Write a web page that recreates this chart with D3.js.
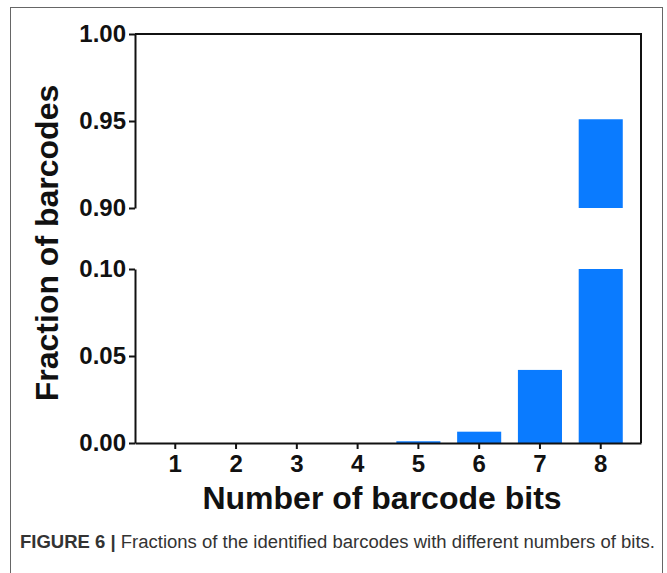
<!DOCTYPE html>
<html>
<head>
<meta charset="utf-8">
<script src="https://cdn.jsdelivr.net/npm/d3@7"></script>
<style>
	body { margin: 0; background: #fff; }
	svg text { font-family: "Liberation Sans", Arial, sans-serif; }
</style>
</head>
<body>
<div id="chart"></div>
<script>
// data
var bits = [1, 2, 3, 4, 5, 6, 7, 8];
var fractions = [0, 0, 0, 0, 0.001, 0.0065, 0.042, 0.951];
var lowTicks = [0.00, 0.05, 0.10];
var highTicks = [0.90, 0.95, 1.00];

const W = 667, H = 573;
const PLOT = { LEFT: 135, RIGHT: 641, TOP: 34, BREAK_TOP: 208, BREAK_BOTTOM: 269, BOTTOM: 443 };
const BAR_COLOR = '#0a7bff';

var svg = d3.select('#chart').append('svg')
	.attr('width', W)
	.attr('height', H);

// outer figure frame
svg.append('rect')
	.attr('x', 10.5).attr('y', 7.5)
	.attr('width', 652).attr('height', H)
	.attr('fill', 'none')
	.attr('stroke', '#666')
	.attr('stroke-width', 1);

var x = d3.scaleBand()
	.domain(bits)
	.range([PLOT.LEFT, PLOT.RIGHT])
	.paddingInner(0.275)
	.paddingOuter(0.3);

var yHigh = d3.scaleLinear().domain([0.90, 1.00]).range([PLOT.BREAK_TOP, PLOT.TOP]);
var yLow = d3.scaleLinear().domain([0, 0.10]).range([PLOT.BOTTOM, PLOT.BREAK_BOTTOM]);

// bars: lower segment
svg.append('g').selectAll('rect')
	.data(fractions)
	.enter().append('rect')
	.attr('x', function (d, i) { return x(bits[i]); })
	.attr('width', x.bandwidth())
	.attr('y', function (d) { return yLow(Math.min(d, 0.10)); })
	.attr('height', function (d) { return yLow(0) - yLow(Math.min(d, 0.10)); })
	.attr('fill', BAR_COLOR);

// bars: upper segment (only those above the break)
svg.append('g').selectAll('rect')
	.data(fractions.filter(function (d) { return d > 0.90; }))
	.enter().append('rect')
	.attr('x', function (d) { return x(bits[fractions.indexOf(d)]); })
	.attr('width', x.bandwidth())
	.attr('y', function (d) { return yHigh(Math.min(d, 1)); })
	.attr('height', function (d) { return yHigh(0.90) - yHigh(Math.min(d, 1)); })
	.attr('fill', BAR_COLOR);

// axes
function styleAxis(g) {
	g.selectAll('path, line').attr('stroke', '#111').attr('stroke-width', 2);
	g.selectAll('text')
		.attr('fill', '#111')
		.style('font-size', '24px')
		.style('font-weight', 'bold');
}

svg.append('g')
	.attr('transform', 'translate(' + PLOT.LEFT + ',0)')
	.call(d3.axisLeft(yHigh).tickValues(highTicks).tickFormat(d3.format('.2f')).tickSize(6).tickPadding(3).tickSizeOuter(0))
	.call(styleAxis);

svg.append('g')
	.attr('transform', 'translate(' + PLOT.LEFT + ',0)')
	.call(d3.axisLeft(yLow).tickValues(lowTicks).tickFormat(d3.format('.2f')).tickSize(6).tickPadding(3).tickSizeOuter(0))
	.call(styleAxis);

svg.append('g')
	.attr('transform', 'translate(0,' + PLOT.BOTTOM + ')')
	.call(d3.axisBottom(x).tickSize(6).tickPadding(6).tickSizeOuter(0))
	.call(styleAxis);

// top and right frame lines
svg.append('path')
	.attr('d', 'M' + PLOT.LEFT + ',' + PLOT.TOP + 'H' + PLOT.RIGHT + 'V' + PLOT.BOTTOM)
	.attr('fill', 'none')
	.attr('stroke', '#111')
	.attr('stroke-width', 2);

// axis titles
svg.append('text')
	.attr('transform', 'translate(58,' + 243 + ') rotate(-90)')
	.attr('text-anchor', 'middle')
	.style('font-size', '32px')
	.style('font-weight', 'bold')
	.attr('fill', '#111')
	.text('Fraction of barcodes');

svg.append('text')
	.attr('x', 382)
	.attr('y', 509)
	.attr('text-anchor', 'middle')
	.style('font-size', '32px')
	.style('font-weight', 'bold')
	.attr('fill', '#111')
	.text('Number of barcode bits');

// caption
var cap = svg.append('text')
	.attr('x', 20)
	.attr('y', 548)
	.attr('fill', '#333')
	.attr('textLength', 635)
	.attr('lengthAdjust', 'spacingAndGlyphs')
	.style('font-size', '18px');
cap.append('tspan').style('font-weight', 'bold').text('FIGURE 6 | ');
cap.append('tspan').text('Fractions of the identified barcodes with different numbers of bits.');
</script>
</body>
</html>
